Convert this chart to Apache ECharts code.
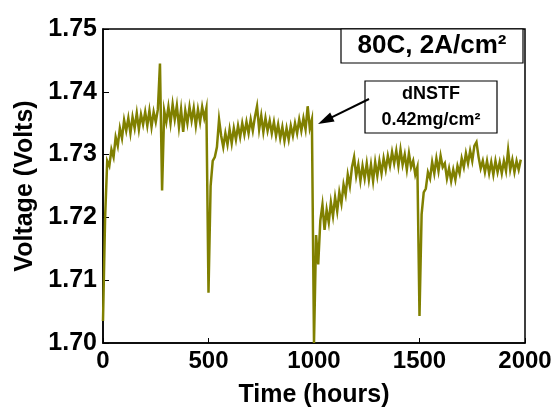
<!DOCTYPE html>
<html>
<head>
<meta charset="utf-8">
<script src="https://cdn.jsdelivr.net/npm/echarts@6/dist/echarts.min.js"></script>
<style>
html,body{margin:0;padding:0;background:#fff;}
#chart{width:556px;height:413px;}
</style>
</head>
<body>
<div id="chart"></div>
<script>
// Logged every 10 hours
const SAMPLE_STEP_HOURS = 10;
const xTicks = [0, 500, 1000, 1500, 2000];
const yTicks = [1.70, 1.71, 1.72, 1.73, 1.74, 1.75];

// 0 - 490 h
const voltsBlock1 = [
  1.7035, 1.7200, 1.7290, 1.7282, 1.7308, 1.7296, 1.7328, 1.7314, 1.7342, 1.7326,
  1.7355, 1.7338, 1.7358, 1.7334, 1.7360, 1.7342, 1.7366, 1.7340, 1.7364, 1.7348,
  1.7368, 1.7346, 1.7370, 1.7344, 1.7368, 1.7352, 1.7372, 1.7445, 1.7243, 1.7370,
  1.7352, 1.7376, 1.7350, 1.7380, 1.7356, 1.7378, 1.7344, 1.7372, 1.7336, 1.7370,
  1.7350, 1.7376, 1.7354, 1.7374, 1.7346, 1.7372, 1.7352, 1.7376, 1.7358, 1.7374
];
// 500 - 990 h
const voltsBlock2 = [
  1.7080, 1.7250, 1.7290, 1.7296, 1.7312, 1.7356, 1.7330, 1.7312, 1.7334, 1.7316,
  1.7340, 1.7318, 1.7342, 1.7324, 1.7346, 1.7328, 1.7350, 1.7332, 1.7352, 1.7334,
  1.7356, 1.7338, 1.7360, 1.7377, 1.7340, 1.7362, 1.7336, 1.7358, 1.7338, 1.7354,
  1.7334, 1.7352, 1.7330, 1.7348, 1.7326, 1.7344, 1.7322, 1.7342, 1.7324, 1.7346,
  1.7330, 1.7350, 1.7334, 1.7356, 1.7338, 1.7358, 1.7340, 1.7377, 1.7342, 1.7356
];
// 1000 - 1490 h
const voltsBlock3 = [
  1.7000, 1.7172, 1.7125, 1.7195, 1.7220, 1.7180, 1.7212, 1.7192, 1.7224, 1.7202,
  1.7232, 1.7210, 1.7240, 1.7222, 1.7252, 1.7236, 1.7268, 1.7250, 1.7280, 1.7296,
  1.7266, 1.7284, 1.7258, 1.7282, 1.7262, 1.7286, 1.7260, 1.7284, 1.7258, 1.7288,
  1.7266, 1.7290, 1.7270, 1.7294, 1.7276, 1.7298, 1.7282, 1.7304, 1.7286, 1.7306,
  1.7282, 1.7308, 1.7284, 1.7300, 1.7276, 1.7302, 1.7280, 1.7290, 1.7268, 1.7280
];
// 1500 - 1980 h
const voltsBlock4 = [
  1.7043, 1.7205, 1.7240, 1.7246, 1.7272, 1.7262, 1.7288, 1.7270, 1.7294, 1.7274,
  1.7298, 1.7280, 1.7286, 1.7262, 1.7278, 1.7258, 1.7276, 1.7260, 1.7282, 1.7270,
  1.7294, 1.7280, 1.7302, 1.7286, 1.7306, 1.7290, 1.7314, 1.7320, 1.7296, 1.7278,
  1.7290, 1.7272, 1.7290, 1.7270, 1.7288, 1.7268, 1.7290, 1.7272, 1.7288, 1.7270,
  1.7290, 1.7274, 1.7307, 1.7276, 1.7292, 1.7272, 1.7290, 1.7276, 1.7292
];

const volts = [].concat(voltsBlock1, voltsBlock2, voltsBlock3, voltsBlock4);
const seriesData = volts.map((v, i) => [i * SAMPLE_STEP_HOURS, v]);

const FONT = '"Liberation Sans", Arial, sans-serif';
const chart = echarts.init(document.getElementById('chart'), null, {renderer: 'canvas'});

const tipX = 318, tipY = 124, tailX = 369, tailY = 99;
const dx = tipX - tailX, dy = tipY - tailY, len = Math.hypot(dx, dy);
const ux = dx / len, uy = dy / len;
const hl = 16, hw = 5;
const bx = tipX - ux * hl, by = tipY - uy * hl;

chart.setOption({
  animation: false,
  backgroundColor: '#fff',
  grid: {left: 103, top: 29, right: 31, bottom: 63, show: true, borderColor: '#000', borderWidth: 1.5, backgroundColor: 'transparent'},
  xAxis: {
    type: 'value', min: xTicks[0], max: xTicks[xTicks.length - 1], interval: 500,
    name: 'Time (hours)', nameLocation: 'middle', nameGap: 40,
    nameTextStyle: {fontFamily: FONT, fontWeight: 'bold', fontSize: 25, color: '#000'},
    axisLine: {lineStyle: {color: '#000', width: 1.5}},
    axisTick: {inside: true, length: 5, lineStyle: {color: '#000', width: 1}},
    axisLabel: {fontFamily: FONT, fontWeight: 'bold', fontSize: 24, color: '#000', margin: 6,
      formatter: v => String(v)},
    splitLine: {show: false}
  },
  yAxis: {
    type: 'value', min: yTicks[0], max: yTicks[yTicks.length - 1], interval: 0.01,
    name: 'Voltage (Volts)', nameLocation: 'middle', nameGap: 58,
    nameTextStyle: {fontFamily: FONT, fontWeight: 'bold', fontSize: 25, color: '#000'},
    axisLine: {show: true, lineStyle: {color: '#000', width: 1.5}},
    axisTick: {show: true, inside: true, length: 6, lineStyle: {color: '#000', width: 1}},
    axisLabel: {fontFamily: FONT, fontWeight: 'bold', fontSize: 25, color: '#000', margin: 6,
      formatter: v => v.toFixed(2)},
    splitLine: {show: false}
  },
  series: [{
    type: 'line', data: seriesData, showSymbol: false, symbol: 'none',
    lineStyle: {color: '#808000', width: 2.5, join: 'miter'}, itemStyle: {color: '#808000'}
  }],
  graphic: [
    {type: 'rect', shape: {x: 341, y: 29, width: 182, height: 34}, style: {fill: '#fff', stroke: '#000', lineWidth: 1.2}, z: 100},
    {type: 'text', x: 432, y: 46, z: 101, style: {text: '80C, 2A/cm²', fontFamily: FONT, fontWeight: 'bold', fontSize: 26, fill: '#000', align: 'center', verticalAlign: 'middle'}},
    {type: 'rect', shape: {x: 365, y: 81, width: 132, height: 52}, style: {fill: '#fff', stroke: '#000', lineWidth: 1.2}, z: 100},
    {type: 'text', x: 431, y: 94, z: 101, style: {text: 'dNSTF', fontFamily: FONT, fontWeight: 'bold', fontSize: 18, fill: '#000', align: 'center', verticalAlign: 'middle'}},
    {type: 'text', x: 431, y: 120, z: 101, style: {text: '0.42mg/cm²', fontFamily: FONT, fontWeight: 'bold', fontSize: 18, fill: '#000', align: 'center', verticalAlign: 'middle'}},
    {type: 'line', z: 101, shape: {x1: tailX, y1: tailY, x2: bx + ux * 2, y2: by + uy * 2}, style: {stroke: '#000', lineWidth: 2}},
    {type: 'polygon', z: 101, shape: {points: [[tipX, tipY], [bx - uy * hw, by + ux * hw], [bx + uy * hw, by - ux * hw]]}, style: {fill: '#000'}}
  ]
});
</script>
</body>
</html>
